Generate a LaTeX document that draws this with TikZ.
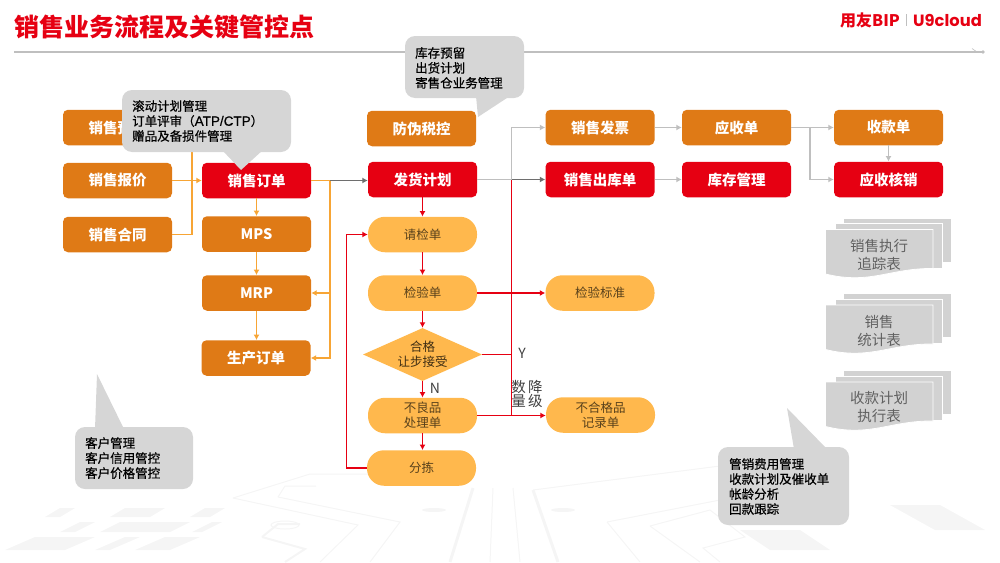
\documentclass[tikz,border=0pt]{standalone}
\usepackage{fontspec}
\usepackage{xcolor}
\setmainfont{Noto Sans CJK SC}
\newfontfamily\logofont{Poppins}
\newfontfamily\latinfont[FakeBold=0.5]{Liberation Sans}
\newfontfamily\calloutfont[FakeBold=0.6]{Noto Sans CJK SC}
\usetikzlibrary{arrows.meta,shapes.geometric}

\definecolor{boxorange}{HTML}{DF7A16}
\definecolor{boxred}{HTML}{E60012}
\definecolor{pillorange}{HTML}{FFB84D}
\definecolor{lineorange}{HTML}{F7A535}
\definecolor{linegray}{HTML}{BFBFBF}
\definecolor{linedark}{HTML}{6E6E6E}
\definecolor{calloutgray}{HTML}{D6D6D6}
\definecolor{sheetgray}{HTML}{D2D2D2}
\definecolor{backgray}{HTML}{F5F5F5}

\tikzset{
  orangebox/.style={fill=boxorange, text=white, rounded corners=5pt, minimum width=109pt, minimum height=35.5pt, inner sep=0pt, font=\fontsize{14.5}{16}\selectfont\bfseries},
  redbox/.style={orangebox, fill=boxred},
  pillbox/.style={fill=pillorange, text=black!65!pillorange, rounded corners=17pt, minimum width=109pt, minimum height=35.5pt, inner sep=0pt, align=center, font=\fontsize{12.5}{15}\selectfont},
  checkbox/.style={diamond, fill=pillorange, text=black!75!pillorange, minimum width=119pt, minimum height=53pt, shape aspect=2.25, inner sep=0pt, align=center, font=\fontsize{12.5}{15}\selectfont},
  calloutbox/.style={fill=calloutgray, rounded corners=10pt, inner sep=0pt},
  calloutlabel/.style={anchor=north west, inner sep=0pt, text=black, align=left, font=\calloutfont\fontsize{12.5}{15}\selectfont},
  sheetlabel/.style={text=black!62, inner sep=0pt, align=center, font=\fontsize{14.5}{18}\selectfont},
  sheet/.style={fill=sheetgray, draw=white, line width=0.8pt},
  flowlabel/.style={text=black!75, inner sep=0pt, font=\fontsize{14}{14}\selectfont},
  orangeline/.style={draw=lineorange, line width=1.1pt},
  redline/.style={draw=boxred, line width=1.1pt},
  grayline/.style={draw=linegray, line width=1.1pt},
  darkline/.style={draw=linedark, line width=1.1pt},
  tip/.style={-{Latex[length=5.5pt,width=6pt]}},
  backline/.style={draw=backgray, line width=1pt},
  backbar/.style={fill=backgray},
}

\begin{document}
\begin{tikzpicture}[x=1pt,y=-1pt]
    \useasboundingbox (0,0) rectangle (1000,562);

    % Draw the faint background
    \draw[backline] (233,498) -- (358,525) -- (320,562);
    \draw[backline] (233,498) -- (310,474) -- (470,474);
    \draw[backline] (278,497) -- (400,522) -- (370,562);
    \draw[backline] (278,497) -- (285,486) -- (316,486);
    \draw[backline, line width=2pt] (262,537) -- (278,524) -- (300,524);
    \draw[backline, line width=2pt] (262,537) -- (305,549) -- (285,562);
    \draw[backline] (285,525) ellipse (14pt and 4pt);
    \draw[backline, line width=3pt] (473,488) -- (450,562);
    \draw[backline] (493,488) -- (490,562);
    \draw[backline] (513,488) -- (520,562);
    \draw[backline, line width=3pt] (533,490) -- (558,562);
    \draw[backline] (533,490) -- (720,466);
    \draw[backline] (607,522) -- (640,562);
    \draw[backline] (607,522) -- (720,500);
    \draw[backline] (650,526) -- (700,562);
    \draw[backline] (650,526) -- (710,510) -- (745,537) -- (703,548) -- (720,562);
    \fill[backgray] (563,510) ellipse (12pt and 2pt);
    \fill[backgray] (434,510) ellipse (12pt and 2pt);
    \fill[backbar] (60,508) -- (75,508) -- (60,517) -- (45,517) -- cycle;
    \fill[backbar] (125,508) -- (165,508) -- (150,517) -- (110,517) -- cycle;
    \fill[backbar] (205,508) -- (225,508) -- (210,517) -- (190,517) -- cycle;
    \fill[backbar] (80,522) -- (95,522) -- (75,532) -- (60,532) -- cycle;
    \fill[backbar] (120,522) -- (190,522) -- (170,532) -- (100,532) -- cycle;
    \fill[backbar] (212,522) -- (222,522) -- (202,532) -- (192,532) -- cycle;
    \fill[backbar] (35,537) -- (95,537) -- (65,550) -- (5,550) -- cycle;
    \fill[backbar] (125,537) -- (140,537) -- (110,550) -- (95,550) -- cycle;
    \fill[backbar] (165,537) -- (200,537) -- (170,550) -- (135,550) -- cycle;
    \fill[backbar] (740,530) -- (800,530) -- (830,550) -- (770,550) -- cycle;
    \fill[backbar] (890,505) -- (940,505) -- (985,530) -- (935,530) -- cycle;

    % Title and logo
    \node[anchor=west, inner sep=0pt, text=boxred, font=\fontsize{25}{25}\selectfont\bfseries] (title) at (14,27) {销售业务流程及关键管控点};
    \node[anchor=west, inner sep=0pt, text=boxred, font=\fontsize{16}{16}\selectfont\bfseries] (logoa) at (840,20) {用友BIP};
    \node[anchor=west, inner sep=0pt, text=boxred, font=\logofont\fontsize{16.3}{18}\selectfont\bfseries] (logob) at (913,20) {U9cloud};
    \fill[linegray] (906,14) rectangle (907,26);
    \coordinate (rulea) at (14,52);
    \coordinate (ruleb) at (983,52);
    \draw[grayline] (rulea) -- (ruleb);
    \fill[linegray] (ruleb) circle (1.8pt);
    \draw[grayline, line width=0.6pt] (972,48.5) -- (977,52);

    % Left columns
    \node[orangebox] (yuce) at (117.5,127.5) {销售预测};
    \node[orangebox] (baojia) at (117.5,180.5) {销售报价};
    \node[orangebox] (hetong) at (117.5,234.5) {销售合同};
    \node[redbox] (dingdan) at (256.5,180.5) {销售订单};
    \node[orangebox] (mps) at (256.5,234) {MPS};
    \node[orangebox] (mrp) at (256.5,293) {MRP};
    \node[orangebox] (shengchan) at (256,358) {生产订单};

    % Middle column
    \node[orangebox] (shuikong) at (421.5,128.5) {防伪税控};
    \node[redbox] (fahuo) at (422.5,179.5) {发货计划};
    \node[pillbox] (qingjian) at (422.5,234.5) {请检单};
    \node[pillbox] (jianyan) at (422.5,293) {检验单};
    \node[checkbox] (hege) at (422.5,354.5) {合格\\让步接受};
    \node[pillbox] (buliang) at (422.5,415.5) {不良品\\处理单};
    \node[pillbox] (fenjian) at (421.5,468) {分拣};

    % Right columns
    \node[orangebox] (fapiao) at (600,127.5) {销售发票};
    \node[redbox] (chuku) at (600,179.5) {销售出库单};
    \node[pillbox] (biaozhun) at (600,293) {检验标准};
    \node[pillbox] (jilu) at (600.5,415) {不合格品\\记录单};
    \node[orangebox] (yingshou) at (736.5,127.5) {应收单};
    \node[redbox] (kucun) at (736.5,179.5) {库存管理};
    \node[orangebox] (shoukuan) at (888.5,127.5) {收款单};
    \node[redbox] (hexiao) at (888.5,179.5) {应收核销};

    % Orange connectors
    \coordinate (hub) at (192,180.5);
    \coordinate (split) at (330,180.5);
    \draw[orangeline, tip] (baojia.east) -- (dingdan.west);
    \draw[orangeline] (hetong.east) -| (hub);
    \draw[orangeline] (yuce.east) -| (hub);
    \draw[orangeline] (dingdan.east) -- (split);
    \draw[darkline, tip] (split) -- (split -| fahuo.west);
    \draw[orangeline, tip] (split) |- (mrp.east);
    \draw[orangeline, tip] (split) |- (shengchan.east);
    \draw[orangeline, tip] (dingdan.south) -- (mps.north);
    \draw[orangeline, tip] (mps.south) -- (mrp.north);
    \draw[orangeline, tip] (mrp.south) -- (mrp.south |- shengchan.north);

    % Red connectors
    \coordinate (branch) at (511.5,179.5);
    \draw[redline, tip] (fahuo.south) -- (qingjian.north);
    \draw[redline, tip] (qingjian.south) -- (jianyan.north);
    \draw[redline, tip] (jianyan.south) -- (hege.north);
    \draw[redline, tip] (hege.south) -- (buliang.north);
    \draw[redline, tip] (buliang.south) -- (buliang.south |- fenjian.north);
    \draw[redline, tip] (fenjian.west) -- ++(-20,0) |- (qingjian.west);
    \draw[redline, tip] (jianyan.east) -- (biaozhun.west);
    \draw[redline] (hege.east) -- (hege.east -| branch);
    \draw[redline, tip] (buliang.east) -- (buliang.east -| jilu.west);
    \draw[redline] (branch) -- (buliang.east -| branch);

    % Gray connectors
    \coordinate (fork) at (810,127.5);
    \draw[grayline] (fahuo.east) -- (branch);
    \draw[darkline, tip] (branch) -- (chuku.west);
    \draw[grayline, tip] (branch) |- (fapiao.west);
    \draw[grayline, tip] (fapiao.east) -- (yingshou.west);
    \draw[grayline, tip] (yingshou.east) -- (shoukuan.west);
    \draw[grayline, tip] (fork) |- (hexiao.west);
    \draw[grayline, tip] (chuku.east) -- (kucun.west);
    \draw[grayline, tip] (shoukuan.south) -- (hexiao.north);

    % Flow labels
    \node[flowlabel] (nolabel) at (435,388) {N};
    \node[flowlabel] (yeslabel) at (522,353) {Y};
    \node[flowlabel, align=center, font=\fontsize{14.5}{14.5}\selectfont] (jiangji) at (527,394) {数\,降\\量\,级};

    % Report stacks
    \foreach \shifty/\first/\second/\stackname in {0/销售执行/追踪表/stacka, 75.5/销售/统计表/stackb, 152.5/收款计划/执行表/stackc} {
      \begin{scope}[yshift=-\shifty pt]
        \path[sheet] (843,218) -- (951,218) -- (951,262) -- (843,262) -- cycle;
        \path[sheet] (835,223.5) -- (942,223.5) -- (942,268) -- (835,268) -- cycle;
        \path[sheet] (825.5,229.5) -- (933,229.5) -- (933,268.5) .. controls (890,268) and (870,285) .. (825.5,274) -- cycle;
        \node[sheetlabel] (\stackname) at (879,255) {\first\\\second};
      \end{scope}
    }

    % Callouts
    \fill[calloutgray] (222,150) -- (241,170) -- (263,150) -- cycle;
    \fill[calloutgray] (476,96) -- (478,117) -- (510,96) -- cycle;
    \fill[calloutgray] (95,429) -- (97,374) -- (124,429) -- cycle;
    \fill[calloutgray] (794,449) -- (787,408) -- (827,449) -- cycle;
    \node[calloutbox, minimum width=169pt, minimum height=62pt] (jihuabox) at (206.5,121) {};
    \node[calloutlabel] (jihua) at (132,100) {滚动计划管理\\订单评审（{\latinfont\fontsize{13.5}{15}\selectfont ATP/CTP}）\\赠品及备损件管理};
    \node[calloutbox, minimum width=119pt, minimum height=62pt] (kucunbox) at (464.5,67) {};
    \node[calloutlabel] (yuliu) at (415,47) {库存预留\\出货计划\\寄售仓业务管理};
    \node[calloutbox, minimum width=118pt, minimum height=62pt] (kehubox) at (134,458) {};
    \node[calloutlabel] (kehu) at (85,437) {客户管理\\客户信用管控\\客户价格管控};
    \node[calloutbox, minimum width=131pt, minimum height=78pt] (feiyongbox) at (783.5,486) {};
    \node[calloutlabel] (feiyong) at (729,458) {管销费用管理\\收款计划及催收单\\帐龄分析\\回款跟踪};
\end{tikzpicture}
\end{document}
